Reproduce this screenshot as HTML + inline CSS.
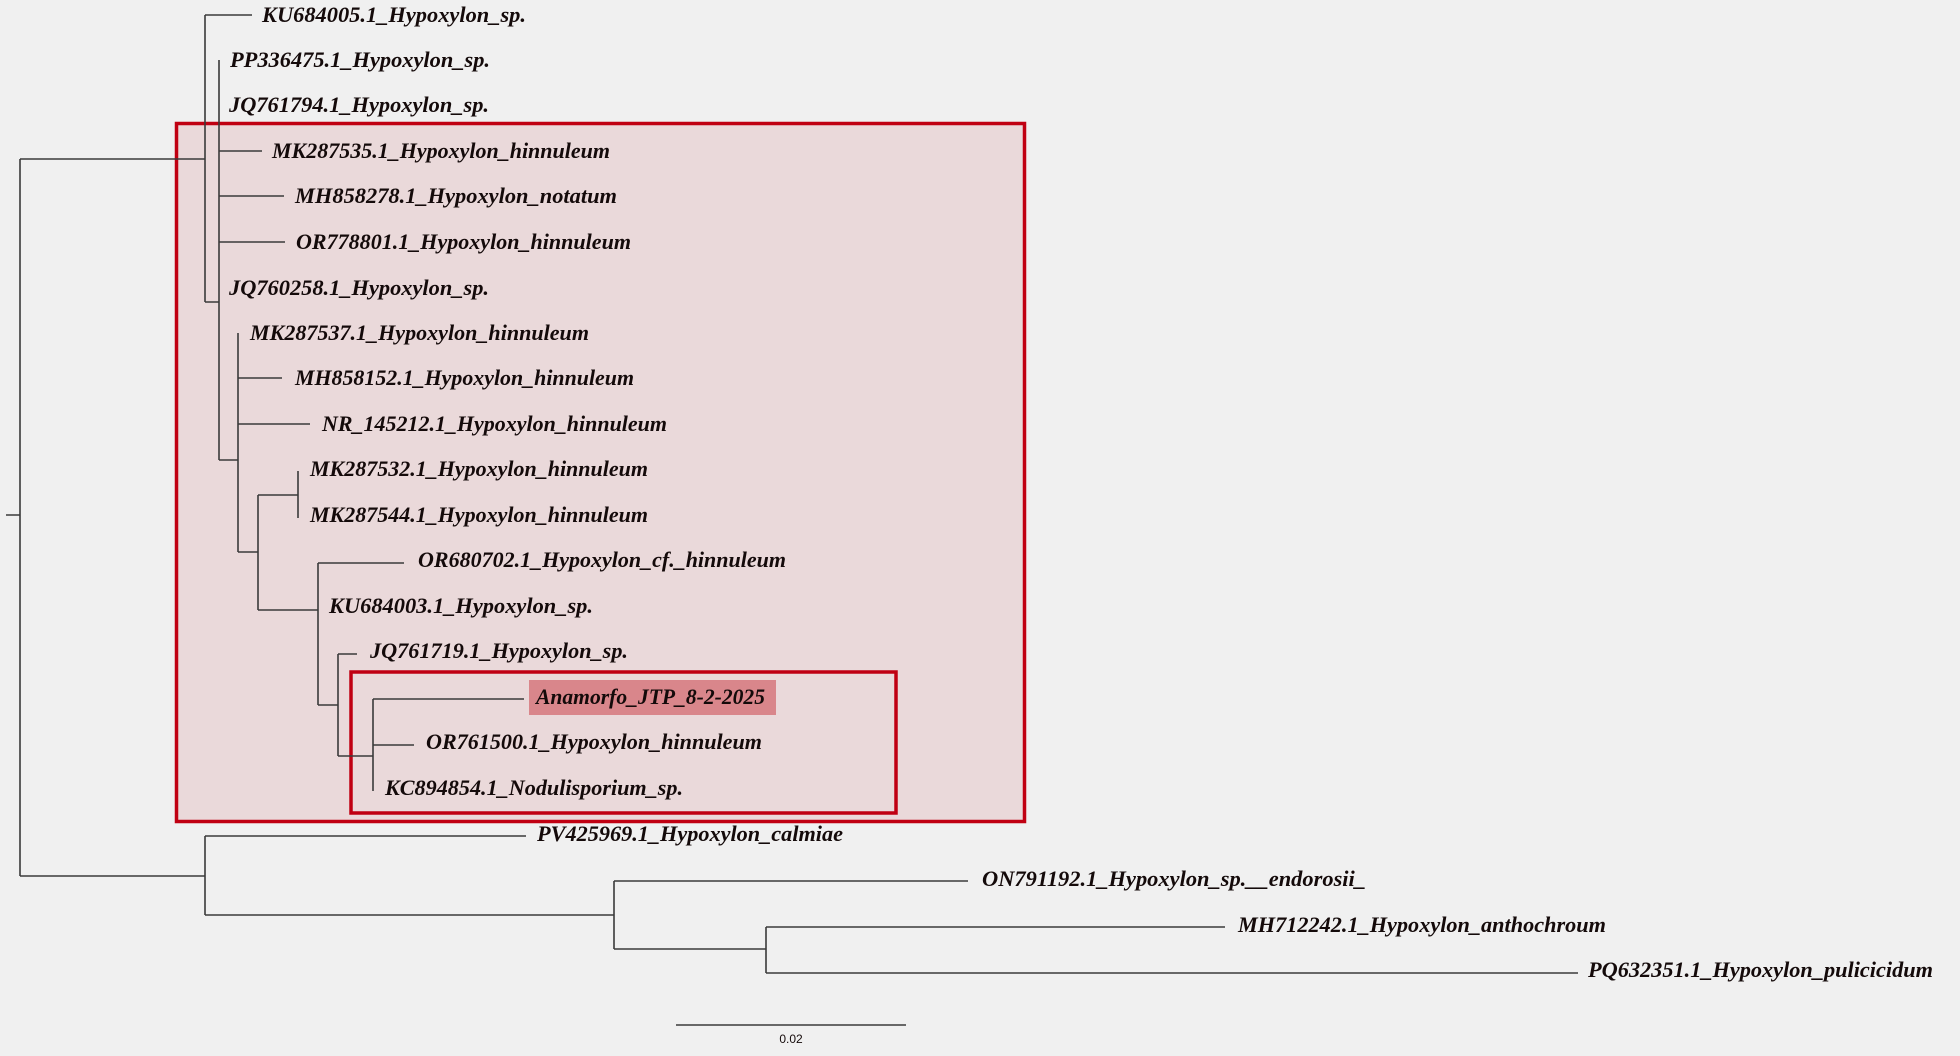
<!DOCTYPE html>
<html><head><meta charset="utf-8"><style>
html,body{margin:0;padding:0;background:#f0f0f0;}
svg{display:block;}
text{font-family:"Liberation Serif",serif;font-weight:bold;font-style:italic;font-size:22px;fill:#140a0a;}
</style></head><body>
<svg width="1960" height="1056" viewBox="0 0 1960 1056" xmlns="http://www.w3.org/2000/svg">
<rect width="1960" height="1056" fill="#f0f0f0"/>
<rect x="176.5" y="123.5" width="848" height="698" fill="#ead9da" stroke="#c00012" stroke-width="3.5"/>
<rect x="351" y="672" width="545" height="141" fill="none" stroke="#c00012" stroke-width="3.5"/>
<rect x="529" y="680" width="247" height="35" fill="#d9868b"/>
<g stroke="#3a3a3a" stroke-width="1.6" fill="none">
<path d="M6 515H20M20 159V876M20 159H205M205 15V302M205 15H252M205 302H219M219 60V460M219 151H262M219 196H284M219 242H285M219 460H238M238 333V552M238 378H282M238 424H310M238 552H258M258 495V610M258 495H298M298 471V518M258 610H318M318 563V705M318 563H404M318 705H338M338 654V756M338 654H357M338 756H373M373 699V791M373 699H524M373 745H414"/>
<path d="M20 876H205M205 836V915M205 836H526M205 915H614M614 881V949M614 881H968M614 949H766M766 927V973M766 927H1225M766 973H1578"/>
<path d="M676 1025H906"/>
</g>
<g>
<text x="262" y="22" textLength="264" lengthAdjust="spacingAndGlyphs">KU684005.1_Hypoxylon_sp.</text>
<text x="230" y="67" textLength="260" lengthAdjust="spacingAndGlyphs">PP336475.1_Hypoxylon_sp.</text>
<text x="229" y="112" textLength="260" lengthAdjust="spacingAndGlyphs">JQ761794.1_Hypoxylon_sp.</text>
<text x="272" y="158" textLength="338" lengthAdjust="spacingAndGlyphs">MK287535.1_Hypoxylon_hinnuleum</text>
<text x="295" y="203" textLength="322" lengthAdjust="spacingAndGlyphs">MH858278.1_Hypoxylon_notatum</text>
<text x="296" y="249" textLength="335" lengthAdjust="spacingAndGlyphs">OR778801.1_Hypoxylon_hinnuleum</text>
<text x="229" y="295" textLength="260" lengthAdjust="spacingAndGlyphs">JQ760258.1_Hypoxylon_sp.</text>
<text x="250" y="340" textLength="339" lengthAdjust="spacingAndGlyphs">MK287537.1_Hypoxylon_hinnuleum</text>
<text x="295" y="385" textLength="339" lengthAdjust="spacingAndGlyphs">MH858152.1_Hypoxylon_hinnuleum</text>
<text x="322" y="431" textLength="345" lengthAdjust="spacingAndGlyphs">NR_145212.1_Hypoxylon_hinnuleum</text>
<text x="310" y="476" textLength="338" lengthAdjust="spacingAndGlyphs">MK287532.1_Hypoxylon_hinnuleum</text>
<text x="310" y="522" textLength="338" lengthAdjust="spacingAndGlyphs">MK287544.1_Hypoxylon_hinnuleum</text>
<text x="418" y="567" textLength="368" lengthAdjust="spacingAndGlyphs">OR680702.1_Hypoxylon_cf._hinnuleum</text>
<text x="329" y="613" textLength="264" lengthAdjust="spacingAndGlyphs">KU684003.1_Hypoxylon_sp.</text>
<text x="370" y="658" textLength="258" lengthAdjust="spacingAndGlyphs">JQ761719.1_Hypoxylon_sp.</text>
<text x="536" y="704" textLength="229" lengthAdjust="spacingAndGlyphs">Anamorfo_JTP_8-2-2025</text>
<text x="426" y="749" textLength="336" lengthAdjust="spacingAndGlyphs">OR761500.1_Hypoxylon_hinnuleum</text>
<text x="385" y="795" textLength="298" lengthAdjust="spacingAndGlyphs">KC894854.1_Nodulisporium_sp.</text>
<text x="537" y="841" textLength="306" lengthAdjust="spacingAndGlyphs">PV425969.1_Hypoxylon_calmiae</text>
<text x="982" y="886" textLength="384" lengthAdjust="spacingAndGlyphs">ON791192.1_Hypoxylon_sp.__endorosii_</text>
<text x="1238" y="932" textLength="368" lengthAdjust="spacingAndGlyphs">MH712242.1_Hypoxylon_anthochroum</text>
<text x="1588" y="977" textLength="345" lengthAdjust="spacingAndGlyphs">PQ632351.1_Hypoxylon_pulicicidum</text>
<text x="791" y="1043" text-anchor="middle" style="font-family:'Liberation Sans',sans-serif;font-style:normal;font-weight:normal;font-size:12px;">0.02</text>
</g>
</svg>
</body></html>
